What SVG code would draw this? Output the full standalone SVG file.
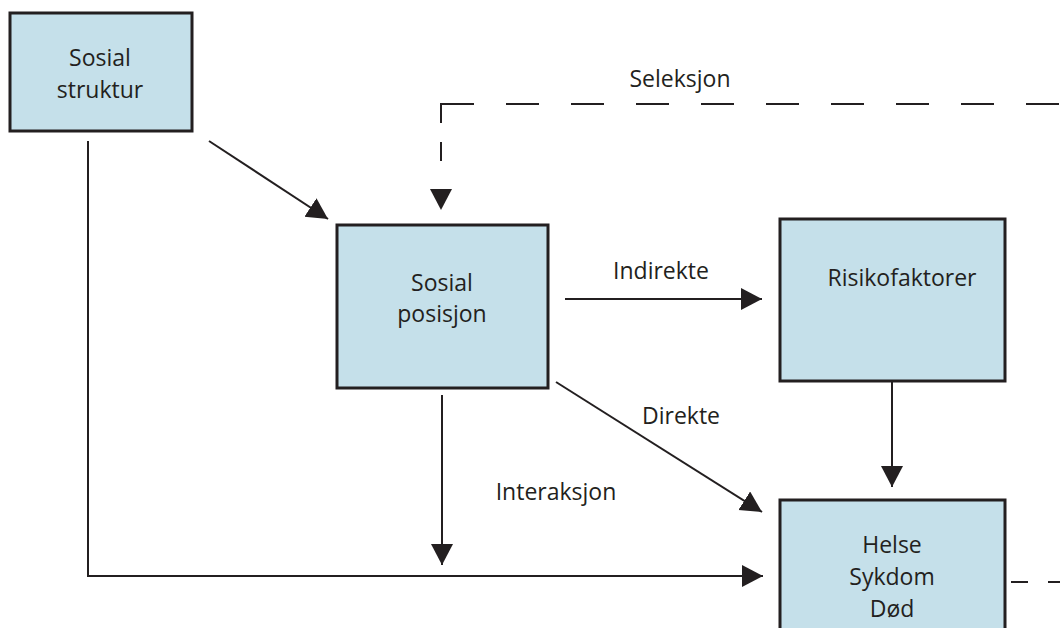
<svg xmlns="http://www.w3.org/2000/svg" width="1060" height="628" viewBox="0 0 1060 628">
  <style>
    .box { fill: #c5e0ea; stroke: #231f20; stroke-width: 3; }
    .lbl { font-family: "Open Sans", "Noto Sans", sans-serif; font-size: 23px; fill: #231f20; text-anchor: middle; }
    .conn { stroke: #231f20; stroke-width: 2; fill: none; }
    .dash { stroke: #231f20; stroke-width: 2; fill: none; }
  </style>
  <defs>
    <marker id="arr" markerUnits="userSpaceOnUse" markerWidth="22" markerHeight="24" refX="21" refY="11" orient="auto">
      <path d="M0,0 L21,11 L0,22 Z" fill="#231f20"/>
    </marker>
  </defs>
  <rect width="1060" height="628" fill="#ffffff"/>

  <g id="connectors">
    <!-- Sosial struktur -> Sosial posisjon -->
    <line class="conn" x1="209" y1="141" x2="328" y2="219" marker-end="url(#arr)"/>
    <!-- Sosial struktur -> Helse (elbow) -->
    <polyline class="conn" points="88,141 88,576 763,576" marker-end="url(#arr)"/>
    <!-- Indirekte -->
    <line class="conn" x1="565" y1="299" x2="762" y2="299" marker-end="url(#arr)"/>
    <!-- Direkte -->
    <line class="conn" x1="556" y1="382" x2="762" y2="512" marker-end="url(#arr)"/>
    <!-- Interaksjon -->
    <line class="conn" x1="442" y1="395" x2="442" y2="565" marker-end="url(#arr)"/>
    <!-- Risikofaktorer -> Helse -->
    <line class="conn" x1="892" y1="381" x2="892" y2="487" marker-end="url(#arr)"/>
    <!-- Seleksjon dashed -->
    <line class="dash" x1="441" y1="104" x2="1060" y2="104" stroke-dasharray="33 32"/>
    <line class="dash" x1="441" y1="103" x2="441" y2="210" stroke-dasharray="20 19 19 200" marker-end="url(#arr)"/>
    <!-- Helse dashed out -->
    <line class="dash" x1="1011" y1="582" x2="1060" y2="582" stroke-dasharray="17 20"/>
    <text class="lbl" x="680" y="87">Seleksjon</text>
    <text class="lbl" x="661" y="279">Indirekte</text>
    <text class="lbl" x="681" y="424">Direkte</text>
    <text class="lbl" x="556" y="500">Interaksjon</text>
  </g>

  <g id="sosial-struktur">
    <rect class="box" x="10" y="13" width="182" height="118"/>
    <text class="lbl" x="100" y="66">Sosial</text>
    <text class="lbl" x="100" y="98">struktur</text>
  </g>

  <g id="sosial-posisjon">
    <rect class="box" x="337" y="225" width="211" height="163"/>
    <text class="lbl" x="442" y="291">Sosial</text>
    <text class="lbl" x="442" y="322">posisjon</text>
  </g>

  <g id="risikofaktorer">
    <rect class="box" x="780" y="219" width="225" height="162"/>
    <text class="lbl" x="902" y="286">Risikofaktorer</text>
  </g>

  <g id="helse">
    <rect class="box" x="780" y="500" width="225" height="140"/>
    <text class="lbl" x="892" y="553">Helse</text>
    <text class="lbl" x="892" y="585">Sykdom</text>
    <text class="lbl" x="892" y="617">Død</text>
  </g>
</svg>
